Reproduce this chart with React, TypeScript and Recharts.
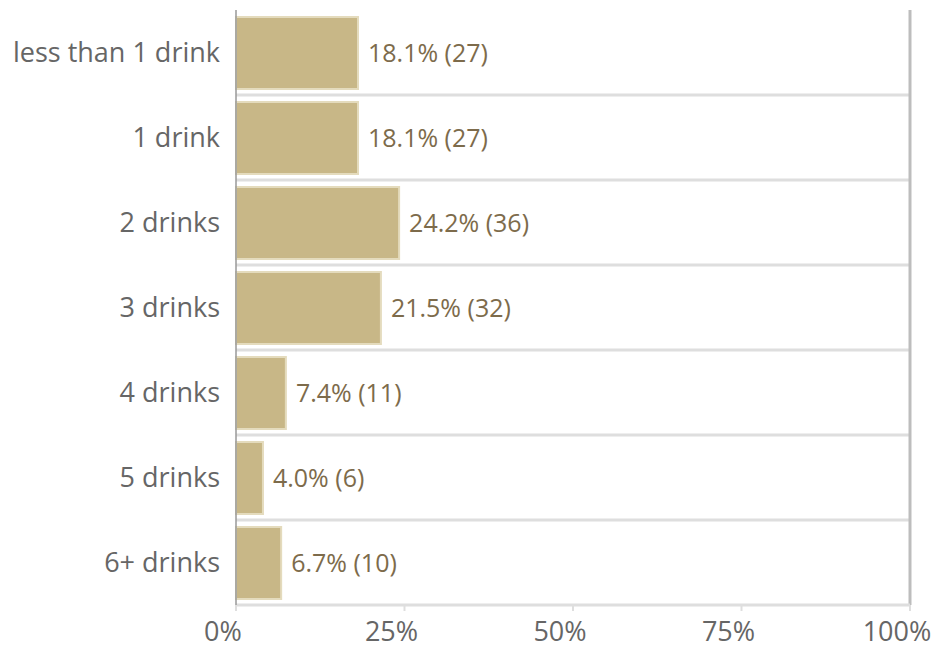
import { Bar, BarChart, CartesianGrid, LabelList, ReferenceLine, XAxis, YAxis } from "recharts";

const categories = ["less than 1 drink", "1 drink", "2 drinks", "3 drinks", "4 drinks", "5 drinks", "6+ drinks"];
const percents = [18.1, 18.1, 24.2, 21.5, 7.4, 4.0, 6.7];
const counts = [27, 27, 36, 32, 11, 6, 10];
const xTicks = [0, 25, 50, 75, 100];

const data = categories.map((name, i) => ({ name, pct: percents[i], count: counts[i] }));

const font = "'Open Sans', sans-serif";

// separators sit between the category bands, not at their centres
const bandLines = ({ offset }: any) => {
  const step = offset.height / categories.length;
  return categories.slice(1).map((_, i) => offset.top + step * (i + 1));
};

export default function App() {
  return (
    <div style={{ position: "absolute", left: 0, top: 0, background: "#fff" }}>
      <BarChart
        width={950}
        height={652}
        data={data}
        layout="vertical"
        margin={{ top: 10, right: 40, bottom: 7, left: 0 }}
        style={{ fontFamily: font }}
      >
        <CartesianGrid vertical={false} stroke="#dedede" strokeWidth={3} horizontalCoordinatesGenerator={bandLines} />
        <XAxis
          type="number"
          domain={[0, 100]}
          ticks={xTicks}
          tickFormatter={(v) => `${v}%`}
          height={40}
          axisLine={{ stroke: "#dedede", strokeWidth: 3 }}
          tickLine={{ stroke: "#dedede", strokeWidth: 2 }}
          tickSize={6}
          tickMargin={11}
          tick={{ fill: "#666", fontSize: 27, dx: -13 }}
        />
        <YAxis
          type="category"
          dataKey="name"
          width={236}
          axisLine={{ stroke: "#999", strokeWidth: 1.5 }}
          tickLine={false}
          tickMargin={10}
          tick={{ fill: "#666", fontSize: 27 }}
        />
        <ReferenceLine x={100} stroke="#bdbdbd" strokeWidth={3} />
        <Bar dataKey="pct" fill="#c8b787" stroke="#e4dbbd" strokeWidth={2} barSize={72} isAnimationActive={false}>
          <LabelList
            dataKey="pct"
            content={(p: any) => {
              const d = data[p.index];
              return (
                <text x={p.x + p.width + 10} y={p.y + p.height / 2} dy={9} fill="#7d6b4b" fontSize={25} fontFamily={font}>
                  {`${d.pct.toFixed(1)}% (${d.count})`}
                </text>
              );
            }}
          />
        </Bar>
      </BarChart>
    </div>
  );
}
